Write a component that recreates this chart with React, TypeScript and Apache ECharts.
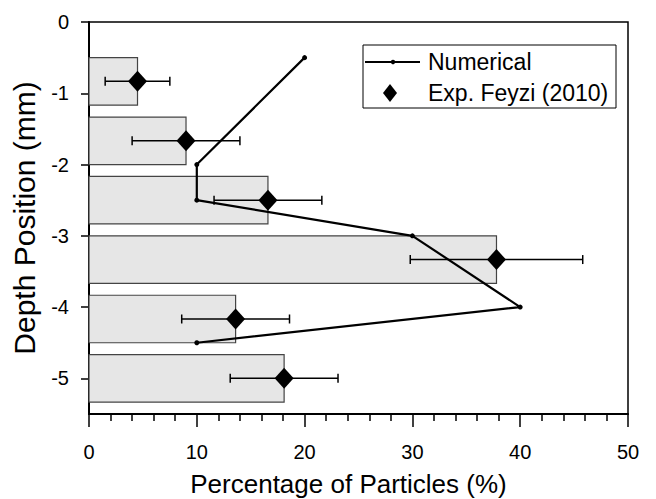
import React, { useEffect, useRef } from "react";
import * as echarts from "echarts";

// Depth of each sampled layer (bar centre, mm)
const layerDepths = [-0.833, -1.667, -2.5, -3.333, -4.167, -5.0];
// Experimental particle percentages per layer
const expPercent = [4.5, 9.0, 16.6, 37.8, 13.6, 18.1];
// Experimental uncertainty (± %)
const expError = [3, 5, 5, 8, 5, 5];
// Numerical profile
const numPercent = [20, 10, 10, 30, 40, 10];
const numDepth = [-0.5, -2, -2.5, -3, -4, -4.5];
// Axis ticks
const xTicks = [0, 10, 20, 30, 40, 50];
const yTicks = [0, -1, -2, -3, -4, -5];
// Legend entries
const legendNames = ["Numerical", "Exp. Feyzi (2010)"];

const FONT = "'Liberation Sans', Arial, Helvetica, sans-serif";
const LAYER_HALF = 1 / 3;
const TICK = "#000";

export default function App() {
  const ref = useRef<HTMLDivElement>(null);

  useEffect(() => {
    if (!ref.current) return;
    const chart = echarts.init(ref.current, null, { renderer: "svg" });

    const barData = layerDepths.map((d, i) => [expPercent[i], d]);
    const errData = layerDepths.map((d, i) => [expPercent[i] - expError[i], expPercent[i] + expError[i], d]);
    const expPoints = layerDepths.map((d, i) => [expPercent[i], d]);
    const numPoints = numDepth.map((d, i) => [numPercent[i], d]);

    const legendBox = { x: 363, y: 45, w: 253, h: 63 };
    const row1 = legendBox.y + 17;
    const row2 = legendBox.y + 48;

    chart.setOption({
      animation: false,
      backgroundColor: "#ffffff",
      textStyle: { fontFamily: FONT },
      grid: {
        left: 89,
        right: 28,
        top: 22,
        bottom: 85,
        outerBoundsMode: "none",
        show: true,
        borderColor: "#000",
        borderWidth: 1.5,
        backgroundColor: "transparent",
      },
      xAxis: {
        type: "value",
        position: "bottom",
        min: xTicks[0],
        max: xTicks[xTicks.length - 1],
        interval: 10,
        name: "Percentage of Particles (%)",
        nameLocation: "middle",
        nameGap: 57,
        nameTextStyle: { fontSize: 26, color: "#000", fontFamily: FONT, padding: [0, 20, 0, 0] },
        axisLine: { show: true, onZero: false, lineStyle: { color: "#000", width: 2 } },
        axisTick: { show: true, length: 13, lineStyle: { color: TICK, width: 1.5 } },
        minorTick: { show: true, splitNumber: 5, length: 7, lineStyle: { color: TICK, width: 1.5 } },
        axisLabel: { color: "#000", fontSize: 20, margin: 28, fontFamily: FONT },
        splitLine: { show: false },
      },
      yAxis: {
        type: "value",
        position: "left",
        min: -5.5,
        max: 0,
        name: "Depth Position (mm)",
        nameLocation: "middle",
        nameGap: 50,
        nameTextStyle: { fontSize: 30, color: "#000", fontFamily: FONT },
        axisLine: { show: true, lineStyle: { color: "#000", width: 2 } },
        axisTick: {
          show: true,
          length: 8,
          customValues: yTicks,
          lineStyle: { color: TICK, width: 1.5 },
        },
        axisLabel: {
          color: "#000",
          fontSize: 20,
          margin: 20,
          fontFamily: FONT,
          customValues: yTicks,
        },
        splitLine: { show: false },
      },
      graphic: [
        {
          type: "group",
          z: 100,
          children: [
            {
              type: "rect",
              shape: { x: legendBox.x, y: legendBox.y, width: legendBox.w, height: legendBox.h },
              style: { fill: "#fff", stroke: "#000", lineWidth: 1 },
            },
            {
              type: "line",
              shape: { x1: legendBox.x + 2, y1: row1, x2: legendBox.x + 57, y2: row1 },
              style: { stroke: "#000", lineWidth: 2.2 },
            },
            {
              type: "circle",
              shape: { cx: legendBox.x + 30, cy: row1, r: 2.2 },
              style: { fill: "#000" },
            },
            {
              type: "text",
              x: legendBox.x + 65,
              y: row1,
              style: { text: legendNames[0], font: `23px ${FONT}`, fill: "#000", verticalAlign: "middle" },
            },
            {
              type: "polygon",
              shape: {
                points: [
                  [legendBox.x + 27, row2 - 9],
                  [legendBox.x + 34, row2],
                  [legendBox.x + 27, row2 + 9],
                  [legendBox.x + 20, row2],
                ],
              },
              style: { fill: "#000" },
            },
            {
              type: "text",
              x: legendBox.x + 65,
              y: row2,
              style: { text: legendNames[1], font: `23px ${FONT}`, fill: "#000", verticalAlign: "middle" },
            },
          ],
        },
      ],
      series: [
        {
          name: "bars",
          type: "custom",
          data: barData,
          encode: { x: 0, y: 1 },
          z: 1,
          renderItem: (params: any, api: any) => {
            const v = api.value(0);
            const d = api.value(1);
            const p0 = api.coord([0, d + LAYER_HALF]);
            const p1 = api.coord([v, d - LAYER_HALF]);
            return {
              type: "rect",
              shape: { x: p0[0], y: p0[1], width: p1[0] - p0[0], height: p1[1] - p0[1] },
              style: { fill: "#e6e6e6", stroke: "#444", lineWidth: 1.2 },
            };
          },
        },
        {
          name: "errors",
          type: "custom",
          data: errData,
          encode: { x: [0, 1], y: 2 },
          z: 3,
          renderItem: (params: any, api: any) => {
            const lo = api.coord([api.value(0), api.value(2)]);
            const hi = api.coord([api.value(1), api.value(2)]);
            const cap = 4.5;
            const ls = { stroke: "#000", lineWidth: 1.5 };
            return {
              type: "group",
              children: [
                { type: "line", shape: { x1: lo[0], y1: lo[1], x2: hi[0], y2: hi[1] }, style: ls },
                { type: "line", shape: { x1: lo[0], y1: lo[1] - cap, x2: lo[0], y2: lo[1] + cap }, style: ls },
                { type: "line", shape: { x1: hi[0], y1: hi[1] - cap, x2: hi[0], y2: hi[1] + cap }, style: ls },
              ],
            };
          },
        },
        {
          name: legendNames[0],
          type: "line",
          data: numPoints,
          z: 4,
          symbol: "circle",
          symbolSize: 5,
          showSymbol: true,
          itemStyle: { color: "#000" },
          lineStyle: { color: "#000", width: 2.2 },
        },
        {
          name: legendNames[1],
          type: "scatter",
          data: expPoints,
          z: 5,
          symbol: "diamond",
          symbolSize: [19, 21],
          itemStyle: { color: "#000", opacity: 1 },
        },
      ],
    });

    return () => chart.dispose();
  }, []);

  return (
    <div
      ref={ref}
      style={{ position: "fixed", left: 0, top: 0, width: 656, height: 499, background: "#fff" }}
    />
  );
}
